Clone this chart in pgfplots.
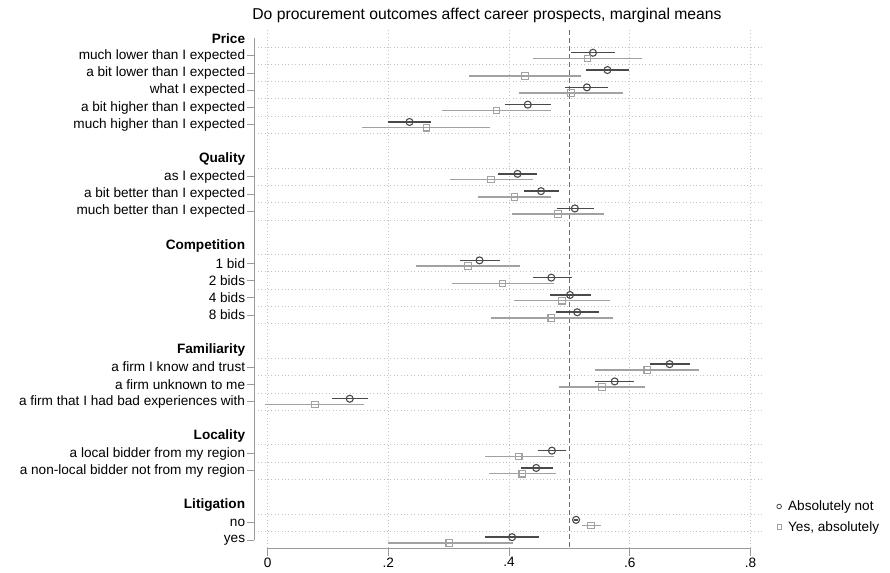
\documentclass[border=0pt]{standalone}
\usepackage{pgfplots}
\pgfplotsset{compat=1.18}
\usepackage{pgfplotstable}
\usepackage{fontspec}
\setmainfont{Liberation Sans}
\definecolor{cA}{HTML}{4A4A4A}
\definecolor{cB}{HTML}{A2A2A2}
\definecolor{gridc}{HTML}{C4C4C4}
\definecolor{axc}{HTML}{9A9A9A}
\definecolor{refc}{HTML}{6E6E6E}

% r = row, m = marginal mean, lo/hi = confidence interval
\pgfplotstableread{
r  m     lo     hi
2  0.539 0.502  0.575
3  0.563 0.527  0.599
4  0.529 0.493  0.564
5  0.431 0.393  0.469
6  0.235 0.199  0.270
9  0.414 0.382  0.447
10 0.453 0.424  0.483
11 0.509 0.479  0.540
14 0.351 0.318  0.385
15 0.470 0.439  0.504
16 0.501 0.468  0.535
17 0.513 0.477  0.549
20 0.666 0.634  0.699
21 0.575 0.542  0.607
22 0.136 0.106  0.167
25 0.471 0.448  0.495
26 0.445 0.420  0.472
29 0.511 0.507  0.515
30 0.405 0.360  0.450
}\dataNot

\pgfplotstableread{
r  m     lo     hi
2  0.530 0.439  0.621
3  0.426 0.333  0.519
4  0.503 0.417  0.589
5  0.379 0.289  0.469
6  0.263 0.157  0.368
9  0.370 0.302  0.439
10 0.409 0.349  0.469
11 0.481 0.405  0.557
14 0.332 0.246  0.418
15 0.389 0.305  0.474
16 0.488 0.408  0.568
17 0.470 0.370  0.572
20 0.629 0.543  0.715
21 0.554 0.482  0.626
22 0.078 -0.004 0.160
25 0.416 0.360  0.474
26 0.422 0.366  0.478
29 0.536 0.521  0.553
30 0.301 0.199  0.406
}\dataYes

\begin{document}
\begin{tikzpicture}
\useasboundingbox (0bp,0bp) rectangle (890bp,573bp);
\node[font=\fontsize{15.7bp}{18bp}\selectfont, inner sep=0pt] at (487bp,558bp) {Do procurement outcomes affect career prospects, marginal means};
\begin{axis}[
  at={(254.3bp,24.7bp)}, anchor=south west,
  scale only axis, width=507bp, height=518.3bp,
  xmin=-0.0222, xmax=0.818, ymin=0.52, ymax=30.48,
  y dir=reverse, clip=false,
  axis line style={draw=none},
  tick align=outside,
  major tick length=7.5bp, minor tick length=0pt,
  tick style={axc, line width=0.8bp},
  xtick pos=left, ytick pos=left,
  xtick={0,0.2,0.4,0.6,0.8},
  xticklabels={0,.2,.4,.6,.8},
  ytick={2,3,4,5,6,9,10,11,14,15,16,17,20,21,22,25,26,29,30},
  yticklabels={much lower than I expected,a bit lower than I expected,what I expected,a bit higher than I expected,much higher than I expected,as I expected,a bit better than I expected,much better than I expected,1 bid,2 bids,4 bids,8 bids,a firm I know and trust,a firm unknown to me,a firm that I had bad experiences with,a local bidder from my region,a non-local bidder not from my region,no,yes},
  extra y ticks={1,8,13,19,24,28},
  extra y tick labels={\textbf{Price},\textbf{Quality},\textbf{Competition},\textbf{Familiarity},\textbf{Locality},\textbf{Litigation}},
  extra y tick style={major tick style={draw=none}, grid=none},
  minor ytick={1.5,2.5,3.5,4.5,5.5,6.5,8.5,9.5,10.5,11.5,13.5,14.5,15.5,16.5,17.5,19.5,20.5,21.5,22.5,24.5,25.5,26.5,28.5,29.5},
  xmajorgrids, ymajorgrids=false, yminorgrids,
  major grid style={gridc, line width=0.8bp, dash pattern=on 0.8bp off 2.6bp},
  minor grid style={gridc, line width=0.8bp, dash pattern=on 0.8bp off 2.6bp},
  tick label style={font=\fontsize{13.6bp}{15bp}\selectfont, inner sep=1.5bp},
  legend style={draw=none, fill=none, at={(axis cs:0.8406,28.65)}, anchor=west,
    font=\fontsize{13.6bp}{15bp}\selectfont, row sep=7bp, inner sep=0pt,
    nodes={inner sep=1bp}, column sep=0bp},
  legend cell align=left,
  legend image code/.code={\path[draw=none] (0bp,0bp) -- (12bp,0bp);\draw[mark repeat=2,mark phase=2,#1] plot coordinates {(0bp,0bp) (4bp,0bp) (8bp,0bp)};},
]
\draw[axc, line width=0.9bp] (axis cs:-0.0222,1) -- (axis cs:-0.0222,30);
\draw[axc, line width=0.9bp] (axis cs:0,30.48) -- (axis cs:0.8,30.48);

\addplot[forget plot, refc, line width=1bp, dash pattern=on 5bp off 3bp] coordinates {(0.5,0.52) (0.5,30.48)};

\addplot[forget plot, only marks, mark=o, mark size=3.5bp,
  mark options={draw=cA, fill=white, line width=1.1bp, solid},
  error bars/.cd, x dir=both, x explicit, error mark=none,
  error bar style={cA, line width=1.5bp}]
  table[x=m, y expr=\thisrow{r}-0.165,
        x error plus expr=\thisrow{hi}-\thisrow{m},
        x error minus expr=\thisrow{m}-\thisrow{lo}] {\dataNot};

\addplot[forget plot, only marks, mark=square, mark size=3.3bp,
  mark options={draw=cB, fill=white, line width=1.1bp, solid},
  error bars/.cd, x dir=both, x explicit, error mark=none,
  error bar style={cB, line width=1.5bp}]
  table[x=m, y expr=\thisrow{r}+0.165,
        x error plus expr=\thisrow{hi}-\thisrow{m},
        x error minus expr=\thisrow{m}-\thisrow{lo}] {\dataYes};

\addlegendimage{only marks, mark=o, mark size=2.3bp, mark options={draw=cA, line width=0.8bp}}
\addlegendentry{Absolutely not}
\addlegendimage{only marks, mark=square, mark size=2.2bp, mark options={draw=cB, line width=0.8bp}}
\addlegendentry{Yes, absolutely}
\end{axis}
\end{tikzpicture}
\end{document}
